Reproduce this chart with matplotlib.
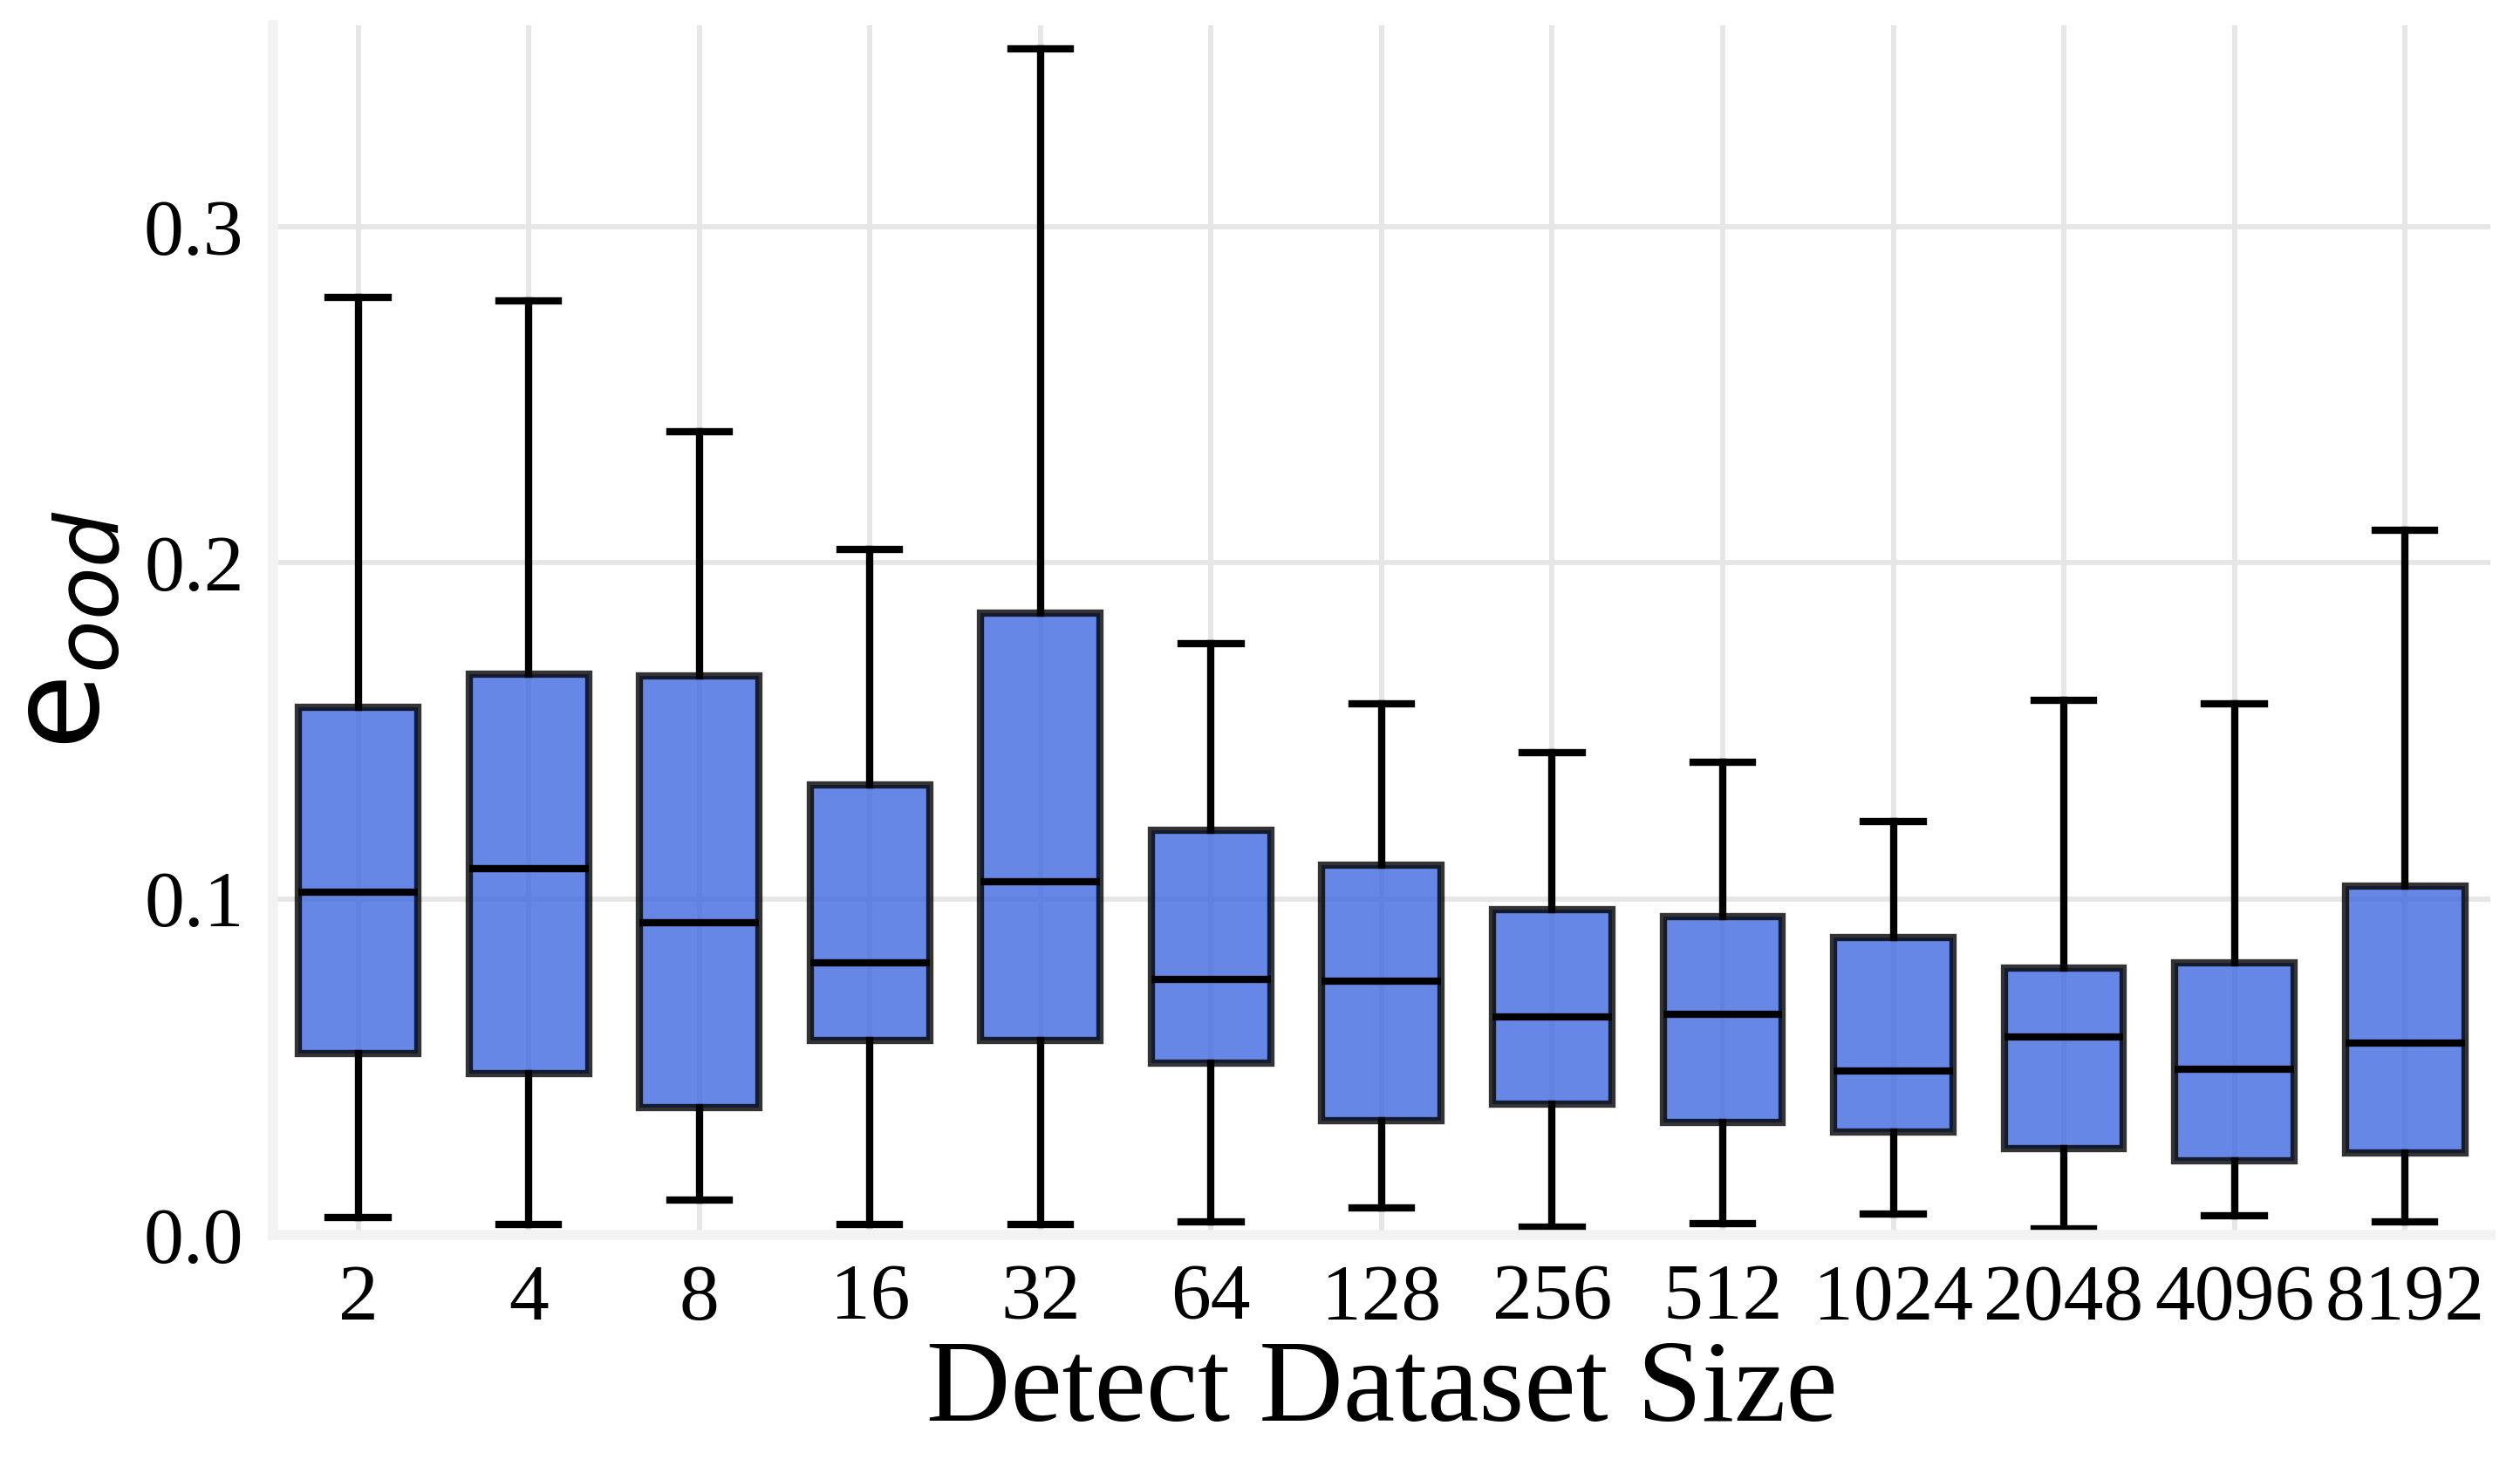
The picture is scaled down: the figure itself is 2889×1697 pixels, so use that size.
import matplotlib
matplotlib.use('Agg')
import matplotlib.pyplot as plt

plt.rcParams['font.family'] = ['Liberation Serif', 'DejaVu Serif']
plt.rcParams['mathtext.fontset'] = 'dejavusans'

# detect dataset sizes and box statistics
sizes = ['2', '4', '8', '16', '32', '64', '128', '256', '512', '1024', '2048', '4096', '8192']
whislo = [0.0052, 0.003, 0.0105, 0.003, 0.003, 0.004, 0.008, 0.0024, 0.0033, 0.0062, 0.0019, 0.0057, 0.0038]
q1 = [0.054, 0.048, 0.038, 0.058, 0.058, 0.051, 0.034, 0.039, 0.0335, 0.0306, 0.0258, 0.022, 0.0244]
med = [0.102, 0.109, 0.093, 0.081, 0.105, 0.076, 0.0756, 0.065, 0.0656, 0.0488, 0.0589, 0.0493, 0.057]
q3 = [0.157, 0.167, 0.1665, 0.134, 0.185, 0.1205, 0.110, 0.0967, 0.0947, 0.0885, 0.0794, 0.0809, 0.1038]
whishi = [0.279, 0.278, 0.239, 0.204, 0.353, 0.176, 0.158, 0.1435, 0.1407, 0.123, 0.159, 0.158, 0.2096]

stats = []
for i in range(len(sizes)):
    stats.append({'label': sizes[i], 'whislo': whislo[i], 'q1': q1[i], 'med': med[i],
                  'q3': q3[i], 'whishi': whishi[i], 'fliers': []})

fig = plt.figure(figsize=(2889 / 300, 1697 / 300), dpi=300)
ax = fig.add_axes([0.1083, 0.1656, 0.8799, 0.8173])

bp = ax.bxp(stats, positions=range(1, len(sizes) + 1), widths=0.7, patch_artist=True,
            showfliers=False,
            boxprops=dict(facecolor='royalblue', edgecolor='black', linewidth=2, alpha=0.8),
            medianprops=dict(color='black', linewidth=2),
            whiskerprops=dict(color='black', linewidth=2),
            capprops=dict(color='black', linewidth=2))

ax.set_xlim(0.5, len(sizes) + 0.5)
ax.set_ylim(0, 0.36)
ax.set_yticks([0.0, 0.1, 0.2, 0.3])
ax.set_axisbelow(True)
ax.grid(True, color='#e6e6e6', linewidth=1.4)

for s in ['top', 'right']:
    ax.spines[s].set_visible(False)
for s in ['left', 'bottom']:
    ax.spines[s].set_color('#f2f2f2')
    ax.spines[s].set_linewidth(2.8)

ax.tick_params(axis='both', length=0, pad=8, labelsize=22)
ax.set_xlabel('Detect Dataset Size', fontsize=32, labelpad=1)
ax.set_ylabel(r'$\mathrm{e}_{ood}$', fontsize=34, labelpad=5)

fig.savefig('out.png', dpi=300)
